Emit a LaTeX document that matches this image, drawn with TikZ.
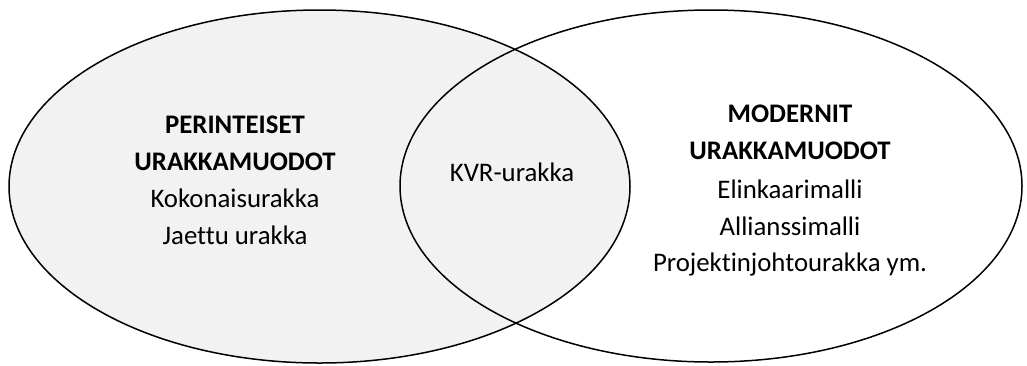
\documentclass[tikz,border=0pt]{standalone}
\usepackage{fontspec}
\setmainfont[Ligatures={NoCommon}]{Carlito}
\begin{document}
\begin{tikzpicture}[x=1pt,y=-1pt,
  venn/.style={line width=1.5pt},
  lbl/.style={anchor=base,inner sep=0pt,font=\fontsize{26.8}{32}\selectfont},
  hdr/.style={lbl,font=\fontsize{26.8}{32}\selectfont\bfseries}]
\useasboundingbox (0,0) rectangle (1027,365);
\fill[fill=white] (0,0) rectangle (1027,365);
\draw[venn,fill=black!5] (319.5,186.5) ellipse [x radius=310.5, y radius=176.5];
\draw[venn] (711,186) ellipse [x radius=311, y radius=176];
\node[hdr] (l1) at (235,133.5) {PERINTEISET};
\node[hdr] (l2) at (235,170.5) {URAKKAMUODOT};
\node[lbl] (l3) at (235,207) {Kokonaisurakka};
\node[lbl] (l4) at (235,244.5) {Jaettu urakka};
\node[lbl] (c1) at (512,181.5) {KVR-urakka};
\node[hdr] (r1) at (790,122.5) {MODERNIT};
\node[hdr] (r2) at (790,159.5) {URAKKAMUODOT};
\node[lbl] (r3) at (790,198) {Elinkaarimalli};
\node[lbl] (r4) at (790,235) {Allianssimalli};
\node[lbl] (r5) at (790,271.5) {Projektinjohtourakka ym.};
\end{tikzpicture}
\end{document}
